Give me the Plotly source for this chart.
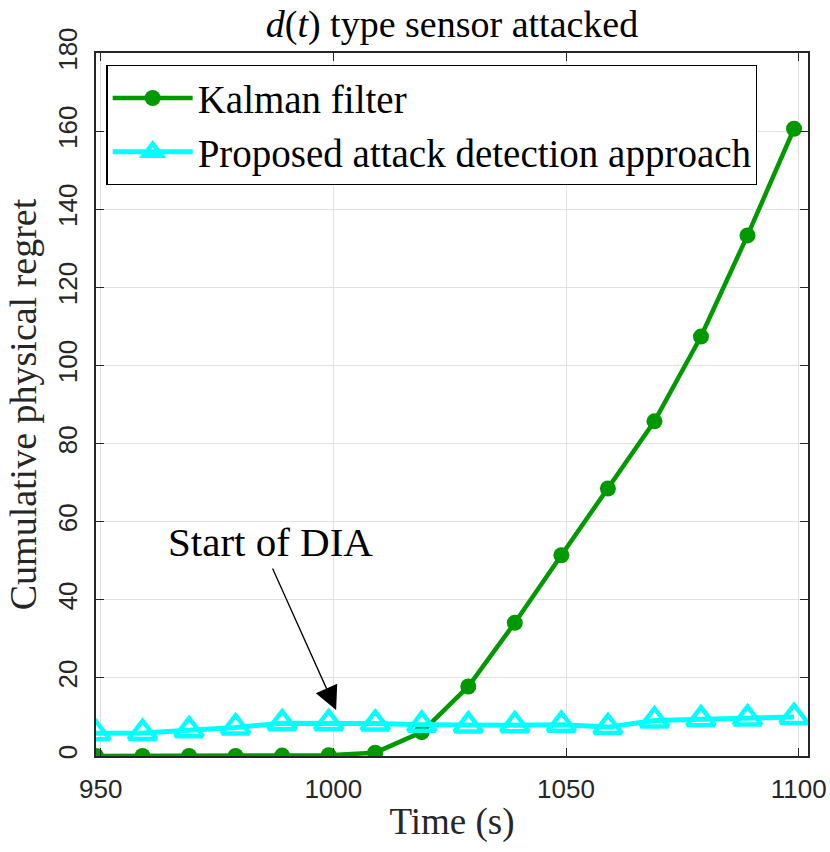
import plotly.graph_objects as go

time_s = [949, 959, 969, 979, 989, 999, 1009, 1019, 1029, 1039, 1049, 1059, 1069, 1079, 1089, 1099]
kalman = [0.0, 0.0, 0.0, 0.0, 0.1, 0.2, 0.85, 6.1, 17.8, 34.1, 51.4, 68.5, 85.7, 107.4, 133.3, 160.6]
proposed = [5.8, 5.9, 6.6, 7.3, 8.4, 8.4, 8.3, 8.0, 7.8, 7.9, 8.0, 7.4, 9.1, 9.4, 9.6, 10.0]

x_ticks = [950, 1000, 1050, 1100]
y_ticks = [0, 20, 40, 60, 80, 100, 120, 140, 160, 180]

SERIF = "Liberation Serif, Times New Roman, serif"
SANS = "Liberation Sans, Arial, sans-serif"
AX = "#262626"

W, H = 830, 852

fig = go.Figure()
fig.add_trace(go.Scatter(
    x=time_s, y=kalman, mode="lines+markers", name="Kalman filter",
    line=dict(color="#009900", width=4.5),
    marker=dict(symbol="circle", size=16, color="#009900"),
))
fig.add_trace(go.Scatter(
    x=time_s, y=proposed, mode="lines+markers", name="Proposed attack detection approach",
    line=dict(color="#00ffff", width=5),
    marker=dict(symbol="triangle-up-open", size=24, color="#00ffff",
                line=dict(color="#00ffff", width=4.5)),
))

# arrow
fig.add_annotation(x=1000.6, y=11.8, ax=986.8, ay=48.4, xref="x", yref="y",
                   axref="x", ayref="y", text="", showarrow=True,
                   arrowhead=2, arrowsize=3.6, arrowwidth=1.3, arrowcolor="black")
fig.add_annotation(x=986.4, y=54.9, xref="x", yref="y", text="Start of DIA",
                   showarrow=False, font=dict(family=SERIF, size=41, color="black"),
                   xanchor="center", yanchor="middle")

fig.update_layout(
    width=W, height=H,
    margin=dict(l=96, r=22, t=53, b=96),
    paper_bgcolor="white", plot_bgcolor="white",
    title=dict(text="<i>d</i>(<i>t</i>) type sensor attacked", x=452 / W, xanchor="center",
               y=1 - 24 / H, yanchor="middle", yref="container",
               font=dict(family=SERIF, size=38, color="black")),
    legend=dict(x=0.0147, y=0.983, xanchor="left", yanchor="top",
                bgcolor="white", bordercolor="black", borderwidth=1.2,
                font=dict(family=SERIF, size=39, color="black"),
                itemwidth=80, tracegroupgap=0),
    showlegend=True,
)
fig.update_xaxes(
    range=[949, 1102], tickvals=x_ticks, ticktext=[str(v) for v in x_ticks],
    showgrid=True, gridcolor="#e0e0e0", gridwidth=1.3,
    showline=True, linecolor=AX, linewidth=1.5, mirror="ticks",
    ticks="inside", ticklen=8, tickwidth=1.3, tickcolor=AX,
    tickfont=dict(family=SANS, size=26, color=AX), ticklabelstandoff=9,
    ticklabeloverflow="allow", automargin=False,
    zeroline=False,
    title=dict(text="Time (s)", font=dict(family=SERIF, size=37, color=AX), standoff=5),
)
fig.update_yaxes(
    range=[0, 180], tickvals=y_ticks, ticktext=[str(v) for v in y_ticks],
    showgrid=True, gridcolor="#e0e0e0", gridwidth=1.3,
    showline=True, linecolor=AX, linewidth=1.5, mirror="ticks",
    ticks="inside", ticklen=8, tickwidth=1.3, tickcolor=AX,
    tickfont=dict(family=SANS, size=26, color=AX), tickangle=-90, ticklabelstandoff=7,
    ticklabeloverflow="allow", automargin=False,
    zeroline=False,
    title=dict(text="Cumulative physical regret", font=dict(family=SERIF, size=38, color=AX), standoff=5),
)

# remove the default 8px page margin so the figure fills the 830x852 window exactly
fig.write_html("out.html", config={"displayModeBar": False},
               post_script="document.body.style.margin='0';document.body.style.overflow='hidden';")
